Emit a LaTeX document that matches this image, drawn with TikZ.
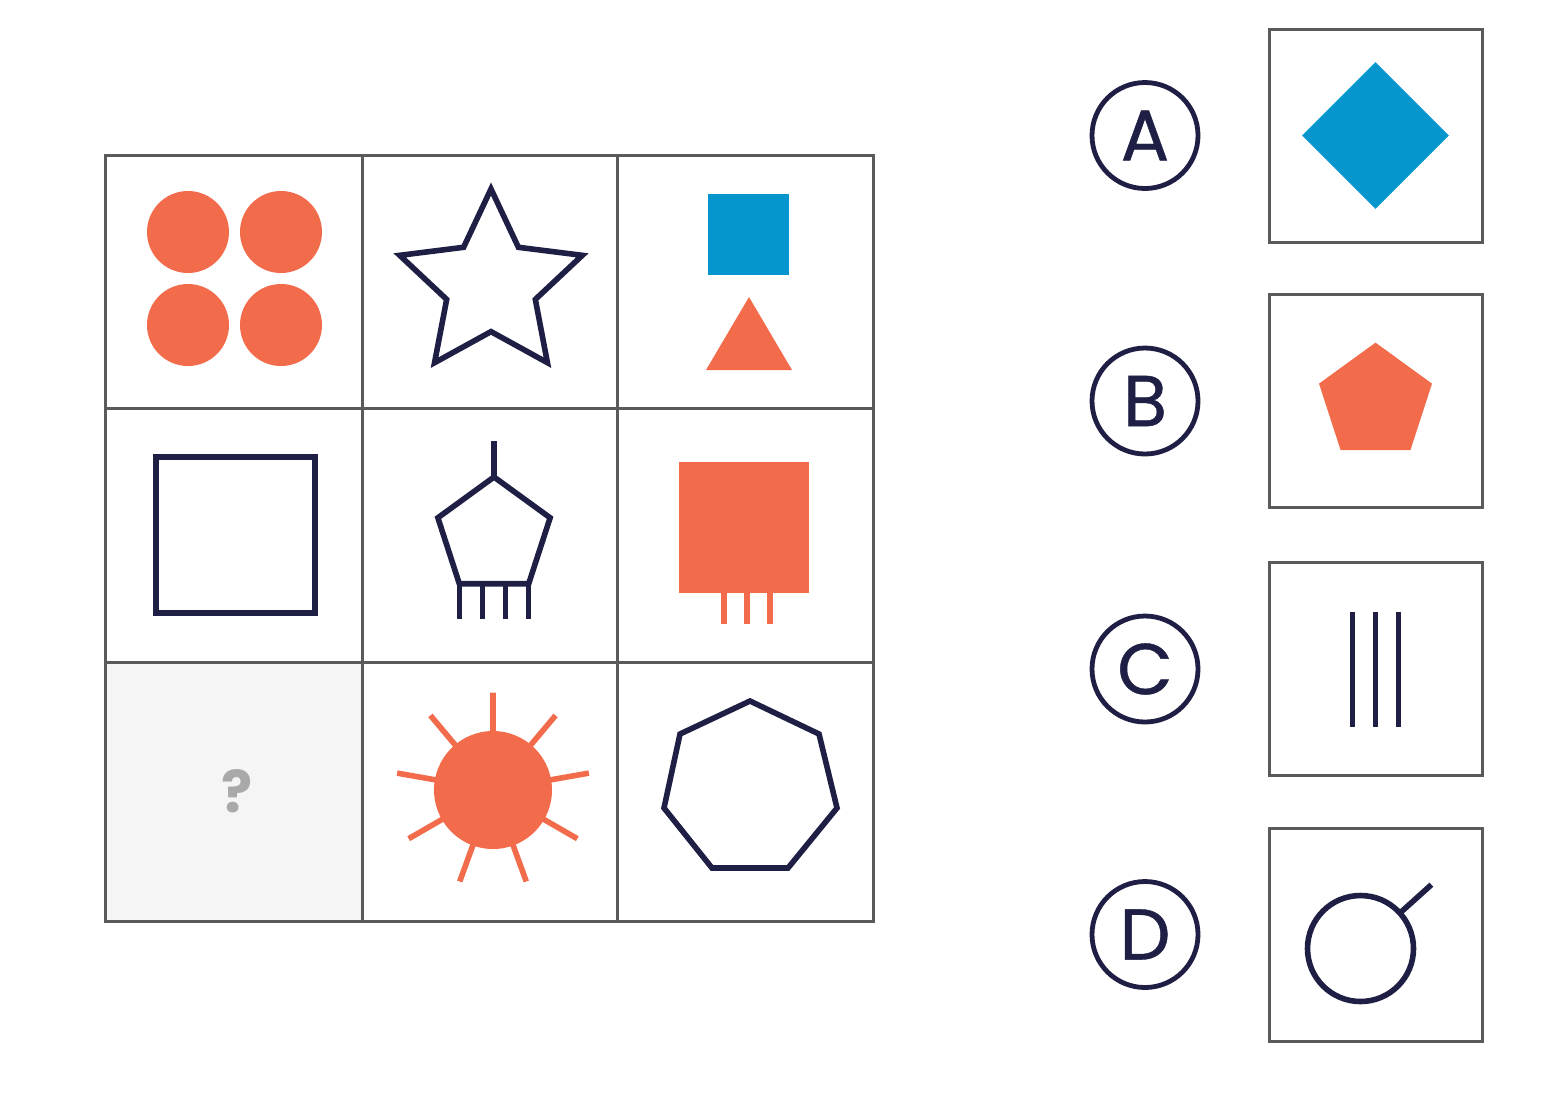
\documentclass[tikz,border=0pt]{standalone}
\usepackage{fontspec}
\setmainfont{Poppins}
\newfontfamily\letterfont[FakeBold=0.6]{Poppins}
\usetikzlibrary{shapes.geometric,calc}
\definecolor{navy}{HTML}{1F1E45}
\definecolor{coral}{HTML}{F26B4B}
\definecolor{sky}{HTML}{0596CE}
\definecolor{framegray}{HTML}{5A5A5A}
\definecolor{cellgray}{HTML}{F5F5F5}
\definecolor{qgray}{HTML}{A9A9A9}
\begin{document}
\begin{tikzpicture}[x=0.5pt, y=-0.5pt,
	ink/.style={draw=navy, line width=2.8pt},
	frameline/.style={draw=framegray, line width=1.5pt},
	choice/.style={circle, draw=navy, line width=2.4pt, minimum size=53pt, inner sep=0pt, text=navy, font=\letterfont\fontsize{36}{36}\selectfont},
	answer/.style={frameline, minimum size=106.5pt, inner sep=0pt, outer sep=0pt}]
	\useasboundingbox (0,0) rectangle (1546,1105);
	\fill[cellgray] (105,662) rectangle (362,921);
	\draw[frameline] (105,155) rectangle (873,921);
	\draw[frameline] (362,155) -- (362,921) (617,155) -- (617,921) (105,408) -- (873,408) (105,662) -- (873,662);
	\node[text=qgray, font=\bfseries\fontsize{29}{29}\selectfont] (qmark) at (237,791) {?};
	\foreach \cx in {188,281}
		\foreach \cy in {232,325}
			\fill[coral] (\cx,\cy) circle (41);
	\node[star, star points=5, star point ratio=2.06, minimum size=96pt, inner sep=0pt, outer sep=0pt, ink] (star) at (491,285) {};
	\fill[sky] (708,194) rectangle (789,275);
	\fill[coral] (749,297) -- (792,370) -- (706,370) -- cycle;
	\draw[ink] (156,457) rectangle (315,613);
	\node[regular polygon, regular polygon sides=5, minimum size=59pt, inner sep=0pt, outer sep=0pt, ink] (lamp) at (494,536) {};
	\draw[ink] (lamp.corner 1) -- ++(0,-36);
	\foreach \t in {0,0.333,0.667,1}
		\draw[ink] ($(lamp.corner 3)!\t!(lamp.corner 4)$) -- ++(0,35);
	\fill[coral] (679,462) rectangle (809,593);
	\foreach \lx in {724,747,770}
		\draw[coral, line width=2.8pt] (\lx,590) -- (\lx,624);
	\node[circle, fill=coral, minimum size=59pt, inner sep=0pt, outer sep=0pt] (sun) at (493,790) {};
	\foreach \a in {10,50,90,130,170,210,250,290,330}
		\draw[coral, line width=2.8pt] ($(sun.center)!0.95!(sun.\a)$) -- ($(sun.center)!1.65!(sun.\a)$);
	\draw[ink] (750,701) -- (819,734) -- (837,808) -- (788,868) -- (712,868) -- (664,808) -- (680,734) -- cycle;
	\foreach \lab/\y in {A/135.5,B/401,C/669,D/934.5} {
		\node[choice] (opt\lab) at (1145,\y) {\lab};
		\node[answer] (box\lab) at (1375.5,\y) {};
	}
	\node[diamond, fill=sky, minimum width=73.5pt, minimum height=73.5pt, inner sep=0pt] (rhombus) at (boxA.center) {};
	\node[regular polygon, regular polygon sides=5, fill=coral, minimum size=59.4pt, inner sep=0pt] (penta) at ($(boxB.center)+(0,1)$) {};
	\foreach \dx in {-23,0,23}
		\draw[ink] ($(boxC.center)+(\dx,-57)$) -- ++(0,115);
	\node[circle, ink, minimum size=53pt, inner sep=0pt, outer sep=0pt] (ring) at ($(boxD.center)+(-15,14)$) {};
	\draw[ink] (ring.42) -- ($(ring.center)!1.8!(ring.42)$);
\end{tikzpicture}
\end{document}
